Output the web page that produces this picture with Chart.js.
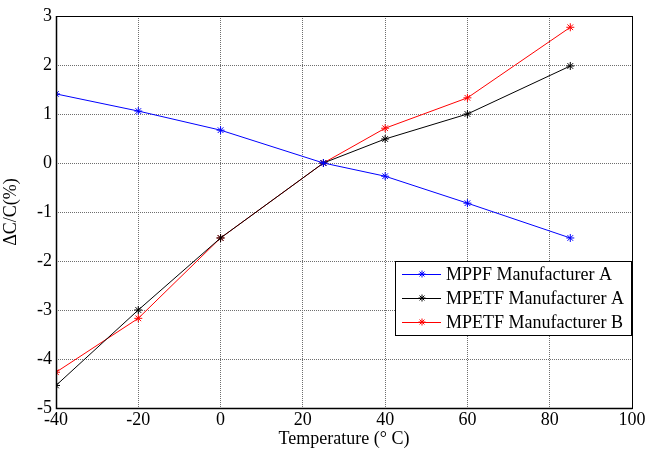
<!DOCTYPE html>
<html>
<head>
<meta charset="utf-8">
<script src="https://cdn.jsdelivr.net/npm/chart.js@4/dist/chart.umd.min.js"></script>
<style>
  html, body { margin: 0; padding: 0; background: #fff; }
  #wrap { width: 658px; height: 450px; position: relative; }
</style>
</head>
<body>
<div id="wrap"><canvas id="chart" width="658" height="450"></canvas></div>
<script>
const temps = [-40, -20, 0, 25, 40, 60, 85];
const mppfA = [1.41, 1.06, 0.67, 0, -0.27, -0.82, -1.53];
const mpetfA = [-4.54, -3.0, -1.53, 0, 0.49, 1.0, 1.98];
const mpetfB = [-4.27, -3.17, -1.53, 0, 0.71, 1.33, 2.77];
const seriesNames = ['MPPF Manufacturer A', 'MPETF Manufacturer A', 'MPETF Manufacturer B'];
const seriesColors = ['#0000ff', '#000000', '#ff0000'];

const font = 'Liberation Serif';

function toPoints(ys) {
    return temps.map((t, i) => ({ x: t, y: ys[i] }));
}

function makeDataset(i, ys) {
    return {
        label: seriesNames[i],
        data: toPoints(ys),
        borderColor: seriesColors[i],
        backgroundColor: seriesColors[i],
        borderWidth: 1,
        pointStyle: 'star',
        pointRadius: 4,
        pointBorderWidth: 1,
        tension: 0
    };
}

// box round the plot area plus the legend in the lower right corner
const frameAndLegend = {
    id: 'frameAndLegend',
    afterDraw(chart) {
        const ctx = chart.ctx;
        const a = chart.chartArea;
        ctx.save();
        ctx.strokeStyle = '#000';
        ctx.lineWidth = 1;
        ctx.strokeRect(a.left + 0.5, a.top + 0.5, a.right - a.left, a.bottom - a.top);
        ctx.lineWidth = 1.5;
        ctx.beginPath();
        ctx.moveTo(a.left + 0.5, a.top);
        ctx.lineTo(a.left + 0.5, a.bottom + 0.5);
        ctx.lineTo(a.right + 0.5, a.bottom + 0.5);
        ctx.stroke();
        ctx.lineWidth = 1;

        const bx = 395, by = 261, bw = 236, bh = 74;
        ctx.fillStyle = '#fff';
        ctx.fillRect(bx, by, bw, bh);
        ctx.strokeRect(bx + 0.5, by + 0.5, bw, bh);
        ctx.font = '18px "' + font + '"';
        ctx.textBaseline = 'middle';
        chart.data.datasets.forEach((ds, i) => {
            const y = by + 13 + i * 24;
            ctx.strokeStyle = ds.borderColor;
            ctx.beginPath();
            ctx.moveTo(bx + 7, y + 0.5);
            ctx.lineTo(bx + 46, y + 0.5);
            ctx.stroke();
            const cx = bx + 27, r = 3.5;
            ctx.beginPath();
            ctx.moveTo(cx - r, y); ctx.lineTo(cx + r, y);
            ctx.moveTo(cx, y - r); ctx.lineTo(cx, y + r);
            ctx.moveTo(cx - r * 0.7, y - r * 0.7); ctx.lineTo(cx + r * 0.7, y + r * 0.7);
            ctx.moveTo(cx - r * 0.7, y + r * 0.7); ctx.lineTo(cx + r * 0.7, y - r * 0.7);
            ctx.stroke();
            ctx.fillStyle = '#000';
            ctx.fillText(ds.label, bx + 51, y + 1);
        });
        ctx.restore();
    }
};

const ctx = document.getElementById('chart').getContext('2d');
new Chart(ctx, {
    type: 'line',
    data: {
        datasets: [
            makeDataset(0, mppfA),
            makeDataset(1, mpetfA),
            makeDataset(2, mpetfB)
        ]
    },
    options: {
        responsive: false,
        animation: false,
        layout: { padding: { top: 16, right: 26, left: 0, bottom: 0 } },
        plugins: {
            legend: { display: false },
            tooltip: { enabled: false }
        },
        scales: {
            x: {
                type: 'linear',
                min: -40,
                max: 100,
                ticks: {
                    stepSize: 20,
                    color: '#000',
                    font: { family: font, size: 18 },
                    padding: 1,
                    maxRotation: 0
                },
                grid: {
                    color: '#6e6e6e',
                    tickLength: 0,
                    drawTicks: false
                },
                border: { display: false, dash: [1, 1] },
                title: {
                    display: true,
                    text: 'Temperature (° C)',
                    color: '#000',
                    font: { family: font, size: 18 },
                    padding: { top: 0, bottom: 0 }
                },
                afterFit(scale) { scale.height = 42; }
            },
            y: {
                min: -5,
                max: 3,
                ticks: {
                    stepSize: 1,
                    color: '#000',
                    font: { family: font, size: 18 },
                    padding: 4
                },
                grid: {
                    color: '#6e6e6e',
                    tickLength: 0,
                    drawTicks: false
                },
                border: { display: false, dash: [1, 1] },
                title: {
                    display: true,
                    text: 'ΔC/C(%)',
                    color: '#000',
                    font: { family: font, size: 18 },
                    padding: { top: 0, bottom: 0 }
                },
                afterFit(scale) { scale.width = 56; }
            }
        }
    },
    plugins: [frameAndLegend]
});
</script>
</body>
</html>
